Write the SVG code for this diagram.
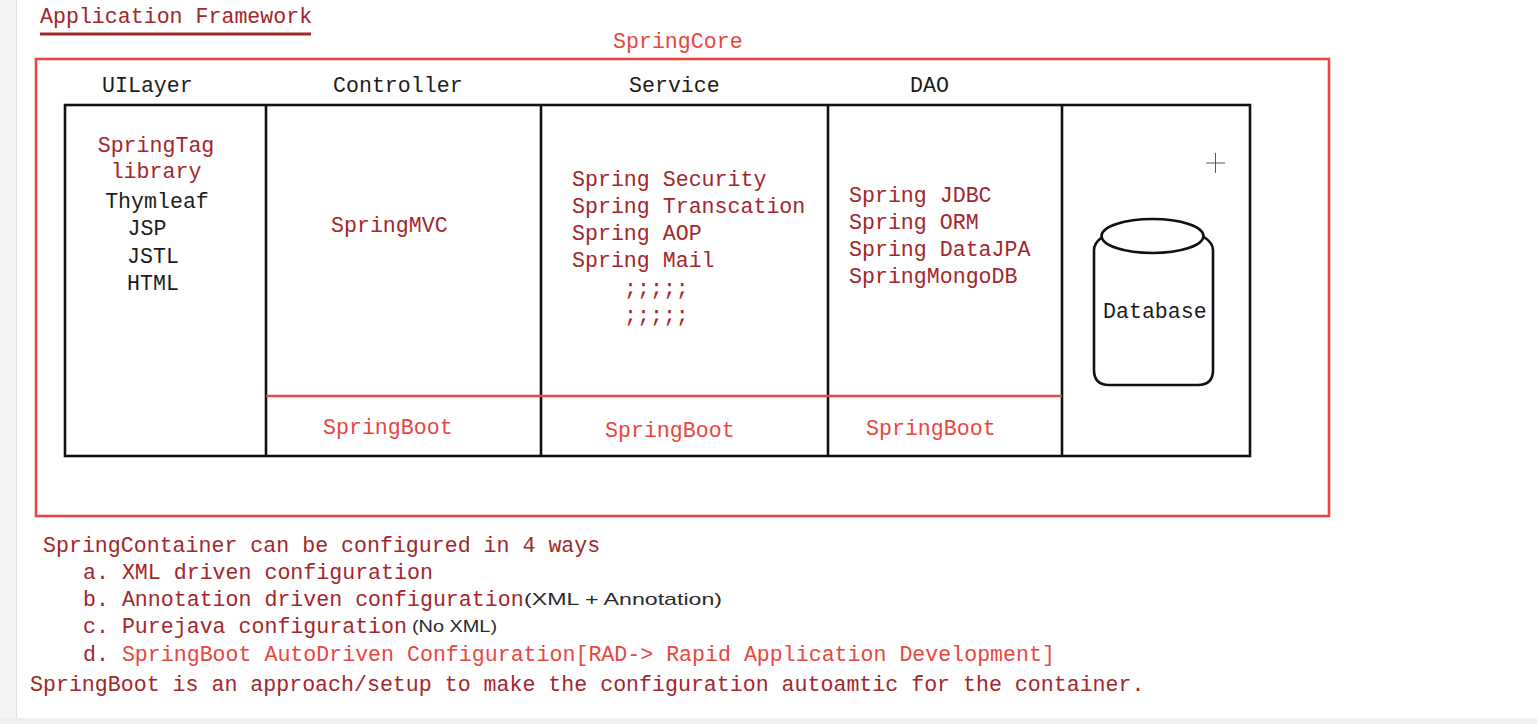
<svg xmlns="http://www.w3.org/2000/svg" width="1537" height="724" viewBox="0 0 1537 724">
<style>
text{font-family:"Liberation Mono","DejaVu Sans Mono",monospace;font-size:21.6px}
.dk{fill:#1c1c1c}
.dr{fill:#a3262a}
.rd{fill:#e8463e}
.sm{font-family:"Liberation Sans","Noto Sans",sans-serif;font-size:17px;fill:#2a2a2a}
.blk{fill:none;stroke:#111;stroke-width:2.6}
.red{fill:none;stroke:#e8463e;stroke-width:2.6}
</style>
<rect x="0" y="0" width="1537" height="724" fill="#ffffff"/>
<rect x="0" y="0" width="16" height="724" fill="#f4f4f4"/>
<line x1="16.5" y1="0" x2="16.5" y2="718" stroke="#e2e2e2" stroke-width="1"/>
<rect x="0" y="718" width="1537" height="6" fill="#efefef"/>

<g id="title">
<text x="40" y="23" class="dr">Application Framework</text>
<line x1="40" y1="34" x2="311" y2="34" stroke="#a3262a" stroke-width="3"/>
</g>

<g id="springcore">
<text x="613" y="48" class="rd">SpringCore</text>
<rect x="36" y="59" width="1293" height="457" class="red"/>
</g>

<g id="headers">
<text x="102" y="92" class="dk">UILayer</text>
<text x="333" y="92" class="dk">Controller</text>
<text x="629" y="92" class="dk">Service</text>
<text x="910" y="92" class="dk">DAO</text>
</g>

<g id="connectors">
<rect x="65" y="105" width="1185" height="351" class="blk"/>
<line x1="266" y1="105" x2="266" y2="456" class="blk"/>
<line x1="541" y1="105" x2="541" y2="456" class="blk"/>
<line x1="828" y1="105" x2="828" y2="456" class="blk"/>
<line x1="1062" y1="105" x2="1062" y2="456" class="blk"/>
<line x1="266" y1="396" x2="1062" y2="396" class="red"/>
</g>

<g id="uilayer">
<text x="156" y="152" class="dr" text-anchor="middle">SpringTag</text>
<text x="156" y="178" class="dr" text-anchor="middle">library</text>
<text x="157" y="208" class="dk" text-anchor="middle">Thymleaf</text>
<text x="147" y="235" class="dk" text-anchor="middle">JSP</text>
<text x="153" y="263" class="dk" text-anchor="middle">JSTL</text>
<text x="153" y="290" class="dk" text-anchor="middle">HTML</text>
</g>

<g id="controller">
<text x="331" y="232" class="dr">SpringMVC</text>
<text x="323" y="434" class="rd">SpringBoot</text>
</g>

<g id="service">
<text x="572" y="186" class="dr">Spring Security</text>
<text x="572" y="213" class="dr">Spring Transcation</text>
<text x="572" y="240" class="dr">Spring AOP</text>
<text x="572" y="267" class="dr">Spring Mail</text>
<text x="624" y="295" class="dr">;;;;;</text>
<text x="624" y="322" class="dr">;;;;;</text>
<text x="605" y="437" class="rd">SpringBoot</text>
</g>

<g id="dao">
<text x="849" y="202" class="dr">Spring JDBC</text>
<text x="849" y="229" class="dr">Spring ORM</text>
<text x="849" y="256" class="dr">Spring DataJPA</text>
<text x="849" y="283" class="dr">SpringMongoDB</text>
<text x="866" y="435" class="rd">SpringBoot</text>
</g>

<g id="database">
<path d="M1101,238 C1096,242 1094,245 1094,250 L1094,370 Q1094,385 1109,385 L1198,385 Q1213,385 1213,370 L1213,250 C1213,245 1210,241 1204,237" class="blk"/>
<ellipse cx="1152.5" cy="236" rx="51" ry="17" class="blk"/>
<text x="1103" y="318" class="dk">Database</text>
</g>

<g id="cursor" stroke="#555" stroke-width="1">
<line x1="1206" y1="163" x2="1225" y2="163"/>
<line x1="1215.5" y1="153" x2="1215.5" y2="173"/>
</g>

<g id="notes">
<text x="43" y="552" class="dr">SpringContainer can be configured in 4 ways</text>
<text x="83" y="579" class="dr">a. XML driven configuration</text>
<text x="83" y="606" class="dr">b. Annotation driven configuration</text>
<text x="524" y="605" class="sm" textLength="198" lengthAdjust="spacingAndGlyphs">(XML + Annotation)</text>
<text x="83" y="633" class="dr">c. Purejava configuration</text>
<text x="412" y="632" class="sm" textLength="85" lengthAdjust="spacingAndGlyphs">(No XML)</text>
<text x="83" y="661" class="dr">d. <tspan class="rd">SpringBoot AutoDriven Configuration[RAD-&gt; Rapid Application Development]</tspan></text>
<text x="30" y="691" class="dr">SpringBoot is an approach/setup to make the configuration autoamtic for the container.</text>
</g>
</svg>
